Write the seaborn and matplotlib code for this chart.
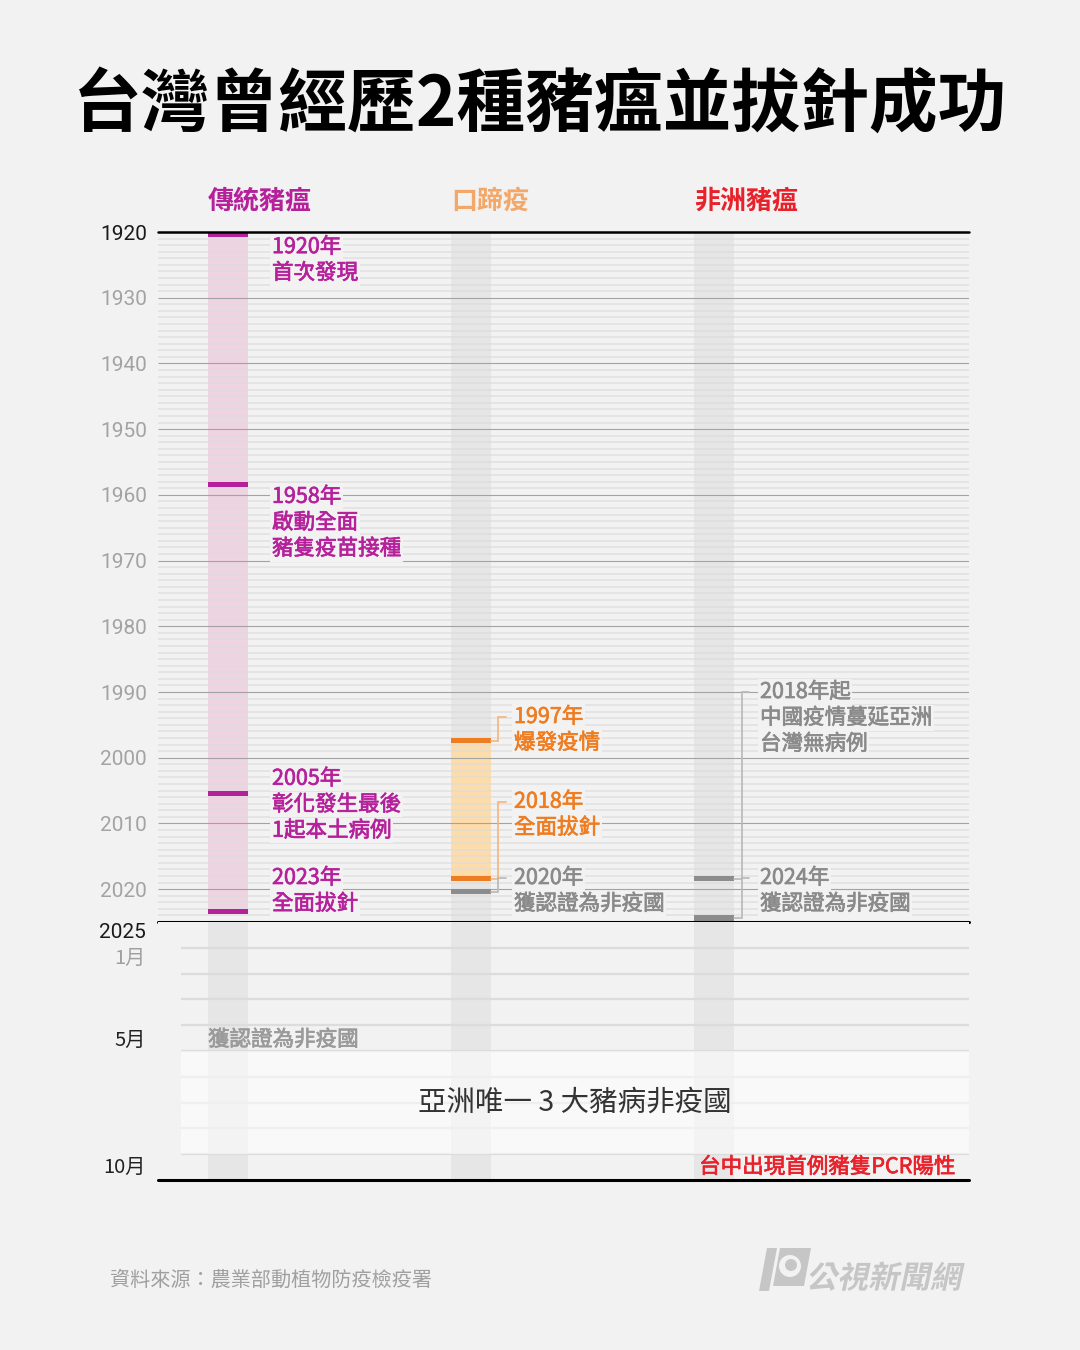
import numpy as np
import pandas as pd
import seaborn as sns
import matplotlib.pyplot as plt
import matplotlib.transforms as mtransforms
import matplotlib.patheffects as pe
from matplotlib.patches import Polygon, Circle, Rectangle, PathPatch
from matplotlib.textpath import TextPath
from matplotlib.font_manager import FontProperties

# ---- data ----
title = "台灣曾經歷2種豬瘟並拔針成功"
diseases = ["傳統豬瘟", "口蹄疫", "非洲豬瘟"]
header_colors = ["#b5219b", "#f3a86a", "#e8222b"]

year_start, year_end = 1920, 2025
decade_ticks = list(range(1920, 2021, 10))

# coloured spans inside a column (outbreak / vaccination period)
span_disease = [0, 1]
span_start = [1920, 1997]
span_end = [2023, 2018]
span_colors = ["#edd4e0", "#fddcab"]

# event markers
event_disease = [0, 0, 0, 0, 1, 1, 1, 2, 2]
event_year = [1920, 1958, 2005, 2023, 1997, 2018, 2020, 2018, 2024]
event_kind = ["csf", "csf", "csf", "csf", "fmd", "fmd", "free", "free", "free"]

# labels attached to the events
label_lines = [
    ["1920年", "首次發現"],
    ["1958年", "啟動全面", "豬隻疫苗接種"],
    ["2005年", "彰化發生最後", "1起本土病例"],
    ["2023年", "全面拔針"],
    ["1997年", "爆發疫情"],
    ["2018年", "全面拔針"],
    ["2020年", "獲認證為非疫國"],
    ["2018年起", "中國疫情蔓延亞洲", "台灣無病例"],
    ["2024年", "獲認證為非疫國"],
]

# 2025 by month
months_2025 = 10
month_labels = ["1月", "5月", "10月"]
csf_free_2025 = "獲認證為非疫國"
asia_note = "亞洲唯一 3 大豬病非疫國"
asf_pcr_note = "台中出現首例豬隻PCR陽性"

source = "資料來源：農業部動植物防疫檢疫署"
brand = "公視新聞網"

# ---- layout ----
label_top_year = [1922.3, 1960.3, 2003.2, 2018.3, 1993.8, 2006.7, 2018.3, 1990.0, 2018.3]
label_connector = [False, False, False, False, True, True, True, True, True]
label_dx_px = [44, 44, 44, 44, 43, 43, 43, 46, 46]
month_label_pos = [1.4, 4.6, 9.5]
month_label_colors = ["#a0a0a0", "#222222", "#222222"]

kind_marker = {"csf": "#b5219b", "fmd": "#ee7d22", "free": "#8c8c8c"}
kind_text = {"csf": "#b5219b", "fmd": "#ee7d22", "free": "#8a8a8a"}
kind_link = {"fmd": "#f5b47c", "free": "#b8b8b8", "csf": "#b5219b"}

bg = "#f2f2f2"
band_gray = "#e6e6e6"

sns.set_theme(style="white", rc={"axes.facecolor": bg, "figure.facecolor": bg})
plt.rcParams["font.family"] = ["Noto Sans CJK TC", "DejaVu Sans"]

W, H = 1080, 1350
fig = plt.figure(figsize=(W / 100, H / 100), dpi=100)

left_px, right_px = 158, 969
top_px, split_px, bottom_px = 232, 922, 1180
col_px = 243          # distance between column centres
col0_px = 228         # first column centre
band_px = 40

xl = -(col0_px - left_px) / col_px
xr = 2 + (right_px - (col0_px + 2 * col_px)) / col_px
band_w = band_px / col_px
px = 1 / col_px                              # one pixel in x data units
py = (year_end - year_start) / (split_px - top_px)   # one pixel in years
pm = months_2025 / (bottom_px - split_px)            # one pixel in months


def medium(colr):
    # a thin stroke in the text colour to get a medium weight look
    return [pe.withStroke(linewidth=0.5, foreground=colr)]


ax = fig.add_axes([left_px / W, 1 - split_px / H, (right_px - left_px) / W, (split_px - top_px) / H])
axb = fig.add_axes([left_px / W, 1 - bottom_px / H, (right_px - left_px) / W, (bottom_px - split_px) / H])

# ---------- upper part: 1920-2025 ----------
ax.set_xlim(xl, xr)
ax.set_ylim(year_end, year_start)

# base gray bands for FMD and ASF
for c in [1, 2]:
    ax.bar(c, year_end - year_start, bottom=year_start, width=band_w, color=band_gray,
           linewidth=0, zorder=1)
for c, s, e, colr in zip(span_disease, span_start, span_end, span_colors):
    ax.bar(c, e - s + (0.8 if c == 0 else 0), bottom=s, width=band_w, color=colr,
           linewidth=0, zorder=1.2)

years = np.arange(year_start + 1, year_end)
minor = [y for y in years if y % 10 != 0]
ax.hlines(minor, xl, xr, color="#dcdcdc", lw=1.1, alpha=0.8, zorder=2)
ax.hlines([y for y in decade_ticks if y > year_start], xl, xr, color="#a3a3a3", lw=0.8, zorder=2.1)
ax.axhline(year_start, color="black", lw=1.8, clip_on=False, zorder=5)
ax.axhline(year_end, color="black", lw=2.2, clip_on=False, zorder=5)

for c, y, k in zip(event_disease, event_year, event_kind):
    ax.bar(c, 0.8, bottom=y, width=band_w, color=kind_marker[k], linewidth=0, zorder=3)

txt_kw = dict(fontsize=15.5, va="center", ha="left", zorder=6,
              bbox=dict(boxstyle="square,pad=0.08", fc=bg, ec="none"))
for i, lines in enumerate(label_lines):
    c = event_disease[i]
    k = event_kind[i]
    tx = c + label_dx_px[i] * px
    for j, line in enumerate(lines):
        ax.text(tx, label_top_year[i] + j * 26 * py, line, color=kind_text[k],
                path_effects=medium(kind_text[k]), **txt_kw)
    if label_connector[i]:
        my = event_year[i] + 0.4
        elbow = c + (27 if c == 1 else 28) * px
        xs = [c + band_w / 2, elbow, elbow, c + 35 * px]
        ys = [my, my, label_top_year[i], label_top_year[i]]
        ax.plot(xs, ys, color=kind_link[k], lw=1.2, zorder=4, solid_joinstyle="miter")

for c, name, colr in zip(range(3), diseases, header_colors):
    ax.text(c - band_w / 2, year_start - 31 * py, name, color=colr, fontsize=18.7,
            fontweight="bold", ha="left", va="center", clip_on=False)

ax.set_xticks([])
ax.set_yticks(decade_ticks)
ax.set_yticklabels([str(y) for y in decade_ticks], family=["Roboto", "DejaVu Sans"], fontsize=15)
for t, y in zip(ax.get_yticklabels(), decade_ticks):
    t.set_color("#1a1a1a" if y == year_start else "#a3a3a3")
ax.tick_params(axis="y", length=0, pad=8)
sns.despine(ax=ax, left=True, bottom=True, top=True, right=True)

# ---------- lower part: 2025 by month ----------
bands = pd.DataFrame({"disease": diseases, "months": [months_2025] * 3})
sns.barplot(data=bands, x="disease", y="months", color=band_gray, width=band_w,
            saturation=1, linewidth=0, ax=axb, zorder=1)
axb.set_xlim(xl, xr)
axb.set_ylim(months_2025, 0)
axb.set_xlabel("")
axb.set_ylabel("")
axb.set_xticks([])
axb.set_yticks([])
sns.despine(ax=axb, left=True, bottom=True, top=True, right=True)

line_x0 = xl + 23 * px
axb.hlines(np.arange(1, months_2025), line_x0, xr, color="#dcdcdc", lw=1.6, zorder=2)
axb.add_patch(Rectangle((line_x0, 5), xr - line_x0, 4, fc="white", ec="none", alpha=0.55, zorder=3))
axb.axhline(months_2025, color="black", lw=2.2, clip_on=False, zorder=5)

ytr = mtransforms.blended_transform_factory(axb.transAxes, axb.transData)
lab_x = -12 / (right_px - left_px)
axb.text(lab_x, 11 * pm, "2025", transform=ytr, ha="right", va="center", fontsize=15,
         color="#1a1a1a", family=["Roboto", "DejaVu Sans"])
for lab, pos, colr in zip(month_labels, month_label_pos, month_label_colors):
    axb.text(lab_x, pos, lab, transform=ytr, ha="right", va="center", fontsize=14.5, color=colr)

axb.text(0 - band_w / 2, 4.57, csf_free_2025, color="#9a9a9a", fontsize=15.5,
         path_effects=medium("#9a9a9a"), ha="left", va="center", zorder=6)
axb.text(xl + (575 - left_px) * px, 7.0, asia_note, color="#333333", fontsize=20.5,
         ha="center", va="center", zorder=6)
axb.text(xl + (955 - left_px) * px, 9.5, asf_pcr_note, color="#e8222b", fontsize=15.5,
         path_effects=medium("#e8222b"), ha="right", va="center", zorder=6)

# ---------- title, source, brand ----------
fig.text(0.5, 1 - 105 / H, title, ha="center", va="center", fontsize=49.5,
         fontweight="black", color="black")
fig.text(110 / W, 1 - 1280 / H, source, ha="left", va="center", fontsize=14.5, color="#a0a0a0")

ov = fig.add_axes([0, 0, 1, 1])
ov.set_xlim(0, W)
ov.set_ylim(H, 0)
ov.axis("off")
ov.patch.set_alpha(0)
logo = "#c6c6c6"
ov.add_patch(Polygon([(759, 1291), (767, 1248), (777, 1248), (769, 1291)], fc=logo, ec="none"))
ov.add_patch(Polygon([(780, 1248), (811, 1248), (804, 1286), (773, 1286)], fc=logo, ec="none"))
ov.add_patch(Circle((790, 1266), 11, fc=bg, ec="none"))
ov.add_patch(Circle((791, 1265), 6, fc=logo, ec="none"))
fp = FontProperties(family="Noto Sans CJK TC", weight="bold")
tp = TextPath((0, 0), brand, size=31, prop=fp)
tr = mtransforms.Affine2D().skew_deg(12, 0).scale(1, -1).translate(806, 1288) + ov.transData
ov.add_patch(PathPatch(tp, fc=logo, ec="none", transform=tr))

fig.savefig("out.png", dpi=100, facecolor=bg)
